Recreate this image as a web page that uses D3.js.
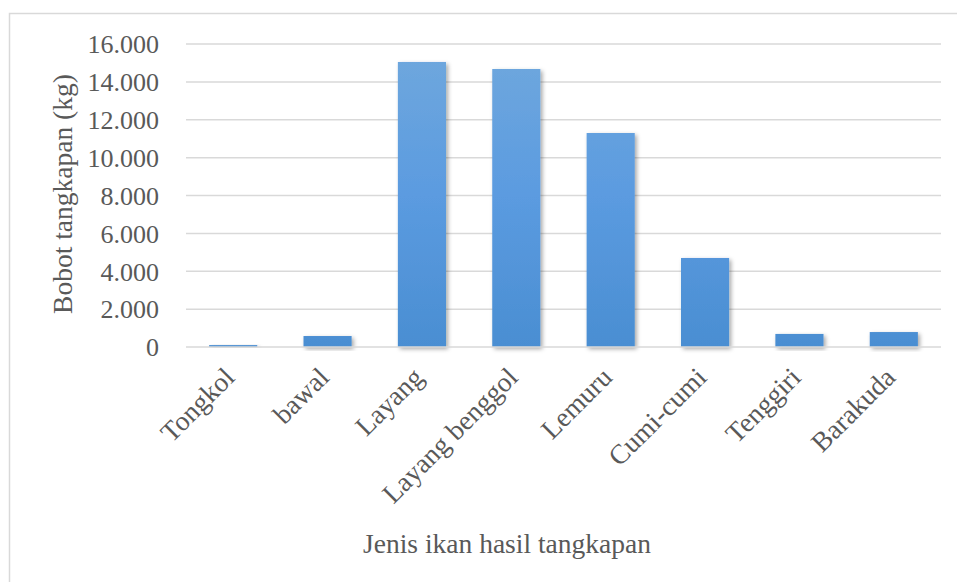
<!DOCTYPE html>
<html>
<head>
<meta charset="utf-8">
<script src="https://cdn.jsdelivr.net/npm/d3@7"></script>
<style>
  html, body { margin: 0; padding: 0; background: #fff; }
  svg { display: block; }
  text { font-family: "Liberation Serif", "Times New Roman", serif; fill: #595959; }
</style>
</head>
<body>
<svg id="chart" width="957" height="582"></svg>
<script>
const categories = ["Tongkol", "bawal", "Layang", "Layang benggol", "Lemuru", "Cumi-cumi", "Tenggiri", "Barakuda"];
const values = [100, 580, 15050, 14680, 11300, 4700, 690, 790];
const yTicks = [0, 2000, 4000, 6000, 8000, 10000, 12000, 14000, 16000];
const yTitle = "Bobot tangkapan (kg)";
const xTitle = "Jenis ikan hasil tangkapan";

const svg = d3.select("#chart");
const W = 957, H = 582;
const m = { left: 186, right: 941, top: 44, bottom: 347 };

// outer chart border (cropped at right/bottom)
svg.append("rect")
  .attr("x", 9.5).attr("y", 13.5)
  .attr("width", W + 20).attr("height", H + 20)
  .attr("fill", "none").attr("stroke", "#d9d9d9").attr("stroke-width", 1.5);

const defs = svg.append("defs");
const grad2 = defs.append("linearGradient").attr("id", "barGradUser")
  .attr("gradientUnits", "userSpaceOnUse")
  .attr("x1", 0).attr("y1", m.top).attr("x2", 0).attr("y2", m.bottom);
grad2.append("stop").attr("offset", "0%").attr("stop-color", "#70a8dd");
grad2.append("stop").attr("offset", "50%").attr("stop-color", "#5b9be0");
grad2.append("stop").attr("offset", "100%").attr("stop-color", "#4a8ed2");

const filt = defs.append("filter").attr("id", "shadow")
  .attr("x", "-30%").attr("y", "-30%").attr("width", "160%").attr("height", "160%");
filt.append("feDropShadow").attr("dx", 2).attr("dy", 2).attr("stdDeviation", 2)
  .attr("flood-color", "#000").attr("flood-opacity", 0.35);

const x = d3.scaleBand().domain(categories).range([m.left, m.right]).paddingInner(0.49).paddingOuter(0.245);
const y = d3.scaleLinear().domain([0, 16000]).range([m.bottom, m.top]);

const fmt = v => d3.format(",")(v).replace(/,/g, ".");

// gridlines
svg.append("g").selectAll("line").data(yTicks.filter(t => t > 0)).join("line")
  .attr("x1", m.left).attr("x2", m.right)
  .attr("y1", d => y(d)).attr("y2", d => y(d))
  .attr("stroke", "#d9d9d9").attr("stroke-width", 1.5);

// y labels
const yAxis = d3.axisLeft(y).tickValues(yTicks).tickFormat(fmt).tickSize(0).tickPadding(27);
const gy = svg.append("g").attr("transform", `translate(${m.left},0)`).call(yAxis);
gy.select(".domain").remove();
gy.selectAll("text").style("font-size", "26px").attr("fill", "#595959").attr("font-family", "Liberation Serif").attr("dy", "0.34em");

// bars
svg.append("g").selectAll("rect").data(categories).join("rect")
  .attr("x", d => x(d))
  .attr("width", x.bandwidth())
  .attr("y", (d, i) => y(values[i]))
  .attr("height", (d, i) => y(0) - y(values[i]))
  .attr("fill", "url(#barGradUser)")
  .attr("filter", "url(#shadow)");

// baseline
svg.append("line").attr("x1", m.left).attr("x2", m.right)
  .attr("y1", y(0)).attr("y2", y(0))
  .attr("stroke", "#d9d9d9").attr("stroke-width", 1.5);

// x labels
const xAxis = d3.axisBottom(x).tickSize(0).tickPadding(0);
const gx = svg.append("g").attr("transform", `translate(0,${m.bottom})`).call(xAxis);
gx.select(".domain").remove();
gx.selectAll("text")
  .style("font-size", "27.5px").attr("fill", "#595959").attr("font-family", "Liberation Serif")
  .attr("text-anchor", "end")
  .attr("dy", null).attr("y", 0)
  .attr("transform", "translate(3,32) rotate(-45)");

// titles
svg.append("text").attr("transform", `translate(72,194) rotate(-90)`)
  .attr("text-anchor", "middle").style("font-size", "27.5px").text(yTitle);
svg.append("text").attr("x", 507).attr("y", 553)
  .attr("text-anchor", "middle").style("font-size", "27.5px").text(xTitle);
</script>
</body>
</html>
